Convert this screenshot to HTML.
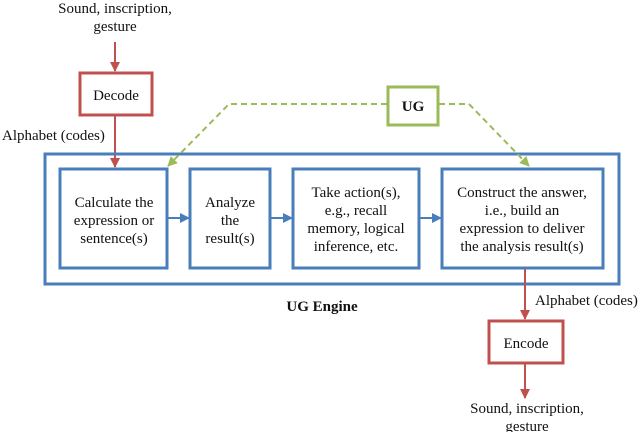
<!DOCTYPE html>
<html><head><style>
body{margin:0;background:#fff;}
svg text{font-family:"Liberation Serif",serif;font-size:15px;fill:#111;}
</style></head><body>
<svg width="640" height="432" viewBox="0 0 640 432" xmlns="http://www.w3.org/2000/svg">
<defs>
<marker id="r" markerWidth="10" markerHeight="10" refX="9" refY="5" orient="auto" markerUnits="userSpaceOnUse"><path d="M0,0 L10,5 L0,10Z" fill="#c0504d"/></marker>
<marker id="b" markerWidth="10" markerHeight="10" refX="9" refY="5" orient="auto" markerUnits="userSpaceOnUse"><path d="M0,0 L10,5 L0,10Z" fill="#4a7ebb"/></marker>
<marker id="g" markerWidth="10" markerHeight="10" refX="9" refY="5" orient="auto" markerUnits="userSpaceOnUse"><path d="M0,0 L10,5 L0,10Z" fill="#9bbb59"/></marker>
</defs>
<g text-anchor="middle">
<text x="115" y="13">Sound, inscription,</text>
<text x="115" y="31">gesture</text>
</g>
<line x1="115" y1="42" x2="115" y2="71" stroke="#c0504d" stroke-width="2" marker-end="url(#r)"/>
<rect x="80" y="73" width="72" height="42" fill="#fff" stroke="#c0504d" stroke-width="3"/>
<text x="116" y="100" text-anchor="middle">Decode</text>
<text x="2" y="140">Alphabet (codes)</text>
<line x1="115" y1="115" x2="115" y2="167" stroke="#c0504d" stroke-width="2" marker-end="url(#r)"/>
<rect x="45" y="154" width="574" height="130" fill="none" stroke="#4a7ebb" stroke-width="3"/>
<rect x="60" y="169" width="107" height="99" fill="#fff" stroke="#4a7ebb" stroke-width="3"/>
<rect x="190" y="169" width="80" height="99" fill="#fff" stroke="#4a7ebb" stroke-width="3"/>
<rect x="293" y="169" width="126" height="99" fill="#fff" stroke="#4a7ebb" stroke-width="3"/>
<rect x="442" y="169" width="161" height="99" fill="#fff" stroke="#4a7ebb" stroke-width="3"/>
<line x1="168" y1="218" x2="189" y2="218" stroke="#4a7ebb" stroke-width="2" marker-end="url(#b)"/>
<line x1="271" y1="218" x2="292" y2="218" stroke="#4a7ebb" stroke-width="2" marker-end="url(#b)"/>
<line x1="420" y1="218" x2="441" y2="218" stroke="#4a7ebb" stroke-width="2" marker-end="url(#b)"/>
<g text-anchor="middle">
<text x="114" y="207">Calculate the</text>
<text x="114" y="225">expression or</text>
<text x="114" y="243">sentence(s)</text>
<text x="230" y="207">Analyze</text>
<text x="230" y="225">the</text>
<text x="230" y="243">result(s)</text>
<text x="356" y="197">Take action(s),</text>
<text x="356" y="215">e.g., recall</text>
<text x="356" y="233">memory, logical</text>
<text x="356" y="251">inference, etc.</text>
<text x="522" y="197">Construct the answer,</text>
<text x="522" y="215">i.e., build an</text>
<text x="522" y="233">expression to deliver</text>
<text x="522" y="251">the analysis result(s)</text>
<text x="322" y="311" font-weight="bold">UG Engine</text>
</g>
<rect x="388" y="87" width="50" height="38" fill="#fff" stroke="#9bbb59" stroke-width="3"/>
<text x="413" y="111" text-anchor="middle" font-weight="bold">UG</text>
<polyline points="387,104 229,104 168,166" fill="none" stroke="#9bbb59" stroke-width="2" stroke-dasharray="6,4" marker-end="url(#g)"/>
<polyline points="439,104 469,104 529,166" fill="none" stroke="#9bbb59" stroke-width="2" stroke-dasharray="6,4" marker-end="url(#g)"/>
<line x1="525" y1="269" x2="525" y2="319" stroke="#c0504d" stroke-width="2" marker-end="url(#r)"/>
<text x="535" y="305">Alphabet (codes)</text>
<rect x="489" y="321" width="74" height="42" fill="#fff" stroke="#c0504d" stroke-width="3"/>
<text x="526" y="348" text-anchor="middle">Encode</text>
<line x1="525" y1="364" x2="525" y2="398" stroke="#c0504d" stroke-width="2" marker-end="url(#r)"/>
<g text-anchor="middle">
<text x="527" y="413">Sound, inscription,</text>
<text x="527" y="431">gesture</text>
</g>
</svg>
</body></html>
